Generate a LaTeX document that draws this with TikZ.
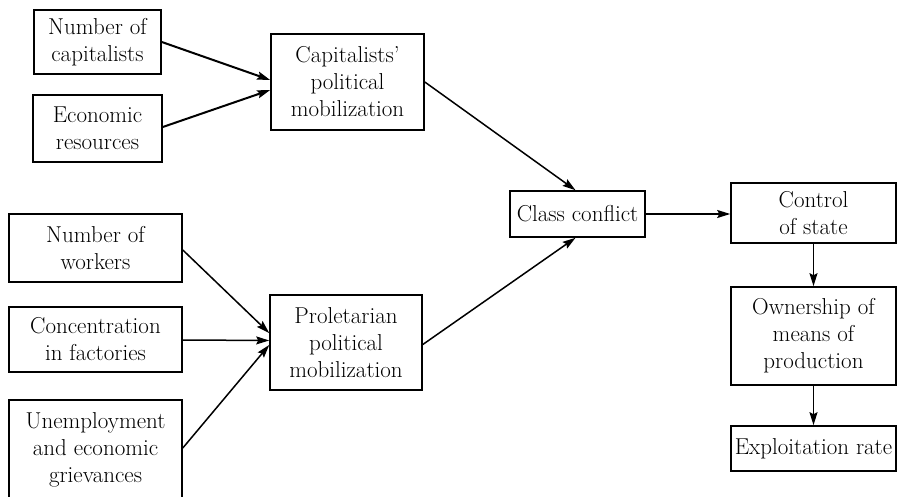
\documentclass[tikz,border=0pt]{standalone}
\usetikzlibrary{arrows.meta,calc}
\begin{document}
\begin{tikzpicture}[x=1pt,y=-1pt,
  box/.style={draw,line width=1.6pt,align=center,inner sep=0pt,
    font=\fontsize{23}{27}\selectfont},
  link/.style={line width=1.5pt,-{Stealth[length=13pt,width=8pt,inset=2pt]}}]
\useasboundingbox (0,0) rectangle (898,497);
% left inputs
\node[box,minimum width=127pt,minimum height=64pt] (numcap) at (97.5,42) {Number of\\capitalists};
\node[box,minimum width=129pt,minimum height=67pt] (econ) at (97.5,128.5) {Economic\\resources};
\node[box,minimum width=173pt,minimum height=68pt] (numw) at (95.5,248) {Number of\\workers};
\node[box,minimum width=173pt,minimum height=65pt] (conc) at (95.5,339.5) {Concentration\\in factories};
\node[box,minimum width=173pt,minimum height=100pt] (unemp) at (95.5,450) {Unemployment\\and economic\\grievances};
% mobilization
\node[box,minimum width=153pt,minimum height=96pt] (capmob) at (347.5,82) {Capitalists'\\political\\mobilization};
\node[box,minimum width=152pt,minimum height=95pt] (prolmob) at (346,342.5) {Proletarian\\political\\mobilization};
% conflict and outcomes
\node[box,minimum width=135pt,minimum height=46pt] (class) at (577.5,214) {Class conflict};
\node[box,minimum width=165pt,minimum height=60pt] (control) at (813.5,213) {Control\\of state};
\node[box,minimum width=165pt,minimum height=98pt] (owner) at (813.5,336) {Ownership of\\means of\\production};
\node[box,minimum width=165pt,minimum height=45pt] (exploit) at (813.5,448.5) {Exploitation rate};
% connectors
\draw[link,line width=2pt] (numcap.east) -- ($(capmob.west)+(0,-2)$);
\draw[link,line width=2pt] ($(econ.east)+(0,-1.5)$) -- ($(capmob.west)+(0,8)$);
\draw[link] (capmob.east) -- ($(class.north)+(-2,0)$);
\draw[link] ($(prolmob.east)+(0,2)$) -- ($(class.south)+(-2,0)$);
\draw[link] ($(numw.east)+(0,2)$) -- ($(prolmob.west)+(0,-9.5)$);
\draw[link] ($(conc.east)+(0,0.5)$) -- ($(prolmob.west)+(0,-2)$);
\draw[link] ($(unemp.east)+(0,-2)$) -- ($(prolmob.west)+(0,2.5)$);
\draw[link] (class.east) -- (class.east -| control.west);
\draw[link] (control.south) -- (owner.north);
\draw[link] (owner.south) -- (exploit.north);
\end{tikzpicture}
\end{document}
